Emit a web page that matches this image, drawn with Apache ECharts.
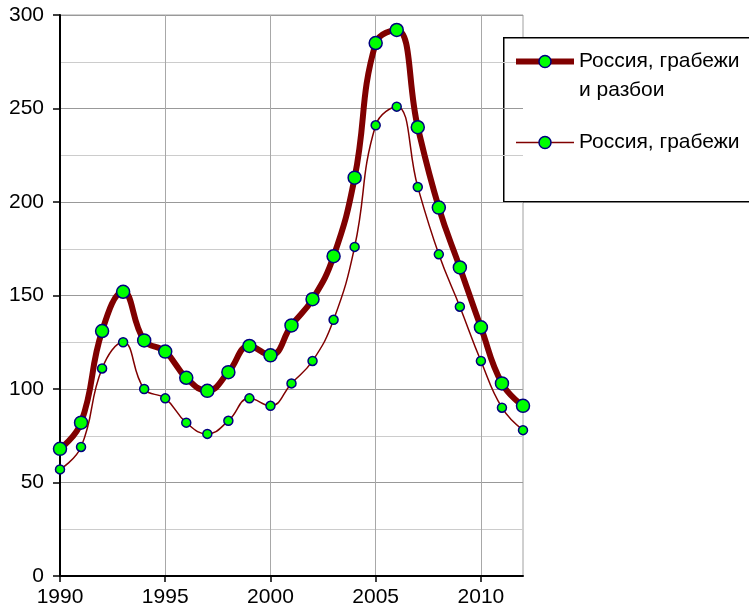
<!DOCTYPE html>
<html>
<head>
<meta charset="utf-8">
<script src="https://cdn.jsdelivr.net/npm/echarts@6/dist/echarts.min.js"></script>
<style>html,body{margin:0;padding:0;background:#fff;}#c{width:749px;height:614px;}</style>
</head>
<body>
<div id="c"></div>
<script>
var years = [1990,1991,1992,1993,1994,1995,1996,1997,1998,1999,2000,2001,2002,2003,2004,2005,2006,2007,2008,2009,2010,2011,2012];
var robberyAndAssault = [68,82,131,152,126,120,106,99,109,123,118,134,148,171,213,285,292,240,197,165,133,103,91];
var robbery = [57,69,111,125,100,95,82,76,83,95,91,103,115,137,176,241,251,208,172,144,115,90,78];
var xTicks = [1990,1995,2000,2005,2010];
var name1 = 'Россия, грабежи и разбои';
var name1Lines = ['Россия, грабежи', 'и разбои'];
var name2 = 'Россия, грабежи';

function pairs(xs, ys){ return xs.map(function(x,i){return [x, ys[i]];}); }

var chart = echarts.init(document.getElementById('c'), null, {renderer:'canvas'});
var font = 'Liberation Sans, Arial, sans-serif';
chart.setOption({
  animation: false,
  backgroundColor: '#fff',
  textStyle: {fontFamily: font},
  grid: {left: 60, top: 15, right: 226, bottom: 38, show: true, borderColor: '#a0a0a0', borderWidth: 1, backgroundColor: 'transparent'},
  xAxis: {
    type: 'value', min: 1990, max: 2012, interval: 5,
    axisLine: {show: true, lineStyle: {color: '#000', width: 2}},
    axisTick: {show: true, length: 6, lineStyle: {color: '#000', width: 1.5}, customValues: xTicks},
    axisLabel: {color: '#000', fontSize: 21, fontFamily: font, margin: 11, customValues: xTicks,
      formatter: function(v){ return String(v); }},
    splitLine: {show: true, lineStyle: {color: '#a8a8a8', width: 1}}
  },
  yAxis: {
    type: 'value', min: 0, max: 300, interval: 50,
    axisLine: {show: true, lineStyle: {color: '#000', width: 2}},
    axisTick: {show: true, length: 7, lineStyle: {color: '#000', width: 1.5}},
    axisLabel: {color: '#000', fontSize: 21, fontFamily: font, margin: 16},
    splitLine: {show: true, lineStyle: {color: '#999', width: 1}},
    minorTick: {show: false, splitNumber: 2},
    minorSplitLine: {show: true, lineStyle: {color: '#ccc', width: 1}}
  },
  legend: {
    orient: 'vertical', left: 513, top: 18, padding: 0,
    itemWidth: 58, itemHeight: 15, itemGap: 23,
    textStyle: {fontSize: 21, fontFamily: font, color: '#000', lineHeight: 29,
      rich: {
        s: {fontSize: 21, lineHeight: 29, fontFamily: font},
        a: {fontSize: 21, lineHeight: 29, fontFamily: font, color: '#000'}
      }
    },
    formatter: function(name){
      if (name === name1) { return '{s| }\n{a|' + name1Lines[0] + '}\n{a|' + name1Lines[1] + '}'; }
      return name;
    },
    data: [
      {name: name1, lineStyle: {width: 6, color: '#800000'}, itemStyle: {color: '#00ff00', borderColor: '#000080', borderWidth: 1.5}},
      {name: name2, lineStyle: {width: 1.5, color: '#800000'}, itemStyle: {color: '#00ff00', borderColor: '#000080', borderWidth: 1.5}}
    ]
  },
  graphic: [{
    type: 'rect', left: 503, top: 37, z: 0,
    shape: {x: 0, y: 0, width: 260, height: 164},
    style: {fill: '#fff', stroke: '#000', lineWidth: 1.5}
  }],
  series: [
    {
      name: name1, type: 'line', smooth: 0.45, data: pairs(years, robberyAndAssault),
      lineStyle: {color: '#800000', width: 6},
      symbol: 'circle', symbolSize: 13,
      itemStyle: {color: '#00ff00', borderColor: '#000080', borderWidth: 1.5},
      z: 3
    },
    {
      name: name2, type: 'line', smooth: 0.45, data: pairs(years, robbery),
      lineStyle: {color: '#800000', width: 1.5},
      symbol: 'circle', symbolSize: 9,
      itemStyle: {color: '#00ff00', borderColor: '#000080', borderWidth: 1.5},
      z: 4
    }
  ]
});
</script>
</body>
</html>
